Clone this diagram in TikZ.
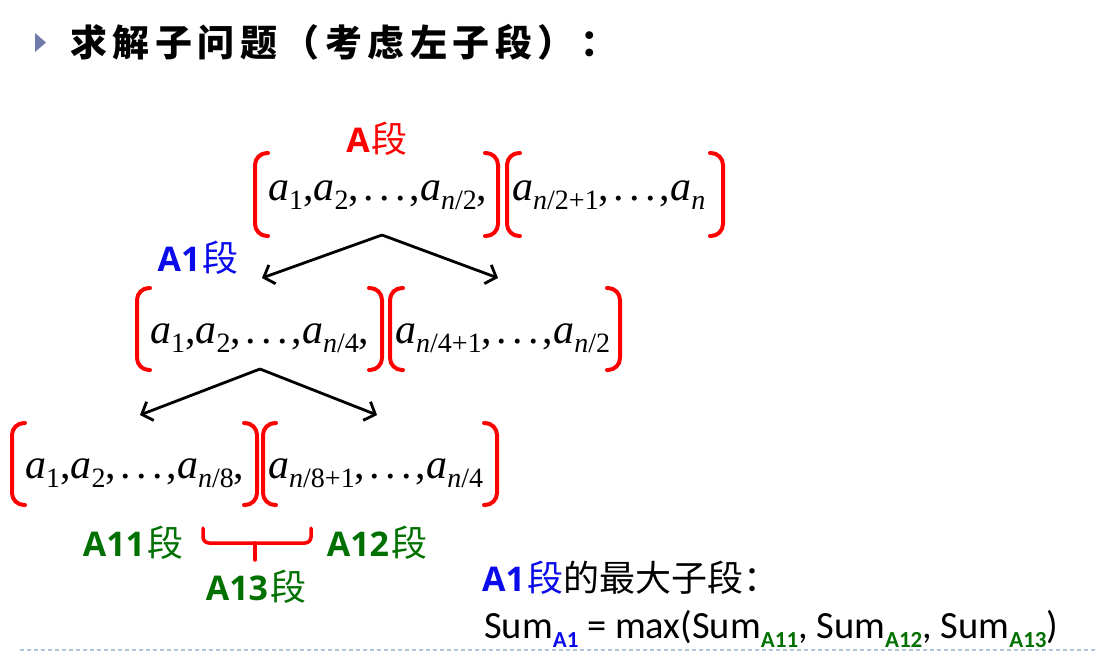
\documentclass[tikz,border=0pt]{standalone}
\usepackage{fontspec}
\setmainfont{Liberation Serif}
\newfontfamily\cjk{Noto Sans CJK SC}
\newfontfamily\calfont{Carlito}
\newfontfamily\labfont{Open Sans}
\usetikzlibrary{arrows.meta}
\definecolor{myred}{RGB}{255,0,0}
\definecolor{myblue}{RGB}{10,10,235}
\definecolor{mygreen}{RGB}{0,112,0}
\definecolor{trigray}{RGB}{112,122,170}
\definecolor{dashblue}{RGB}{175,198,225}
\newcommand{\ai}[1]{\textit{a}\raisebox{-9pt}{\fontsize{28}{28}\selectfont #1}}
\newcommand{\ndots}{\kern4pt.\kern5.5pt.\kern5.5pt.\kern4pt}
\newcommand{\ks}{\kern5.5pt}
\newcommand{\subl}[2]{\raisebox{-9pt}{\fontsize{23}{23}\selectfont\bfseries\color{#2}#1}}
\newcommand{\seg}[1]{{\labfont\bfseries\fontsize{34}{34}\selectfont #1}\kern2pt{\cjk\fontsize{36}{36}\selectfont 段}}
\newcommand{\obr}[3]{\draw[brk] (#1+13,#2) -- (#1,#2) -- (#1,#3) -- (#1+13,#3);}
\newcommand{\cbr}[3]{\draw[brk] (#1-13,#2) -- (#1,#2) -- (#1,#3) -- (#1-13,#3);}
\tikzset{
  mtext/.style={font=\fontsize{42}{42}\selectfont, inner sep=0pt, anchor=base west},
  brk/.style={draw=myred, line width=4pt, rounded corners=12pt, line cap=round},
  arr/.style={draw=black, line width=2.8pt, -{Straight Barb[length=9pt,width=20pt,line width=2.8pt]}},
  lab/.style={inner sep=0pt},
}
\begin{document}
\begin{tikzpicture}[x=1pt,y=-1pt]
\useasboundingbox (0,0) rectangle (1098,651);
% title
\fill[trigray] (35,33) -- (46,42.5) -- (35,52) -- cycle;
\node[anchor=west, inner sep=0pt, font=\cjk\bfseries\fontsize{37}{37}\selectfont] (title) at (70,42)
  {求\ks 解\ks 子\ks 问\ks 题\ks （\ks 考\ks 虑\ks 左\ks 子\ks 段\ks ）\ks ：};
% row 1
\node[lab, text=myred] (A) at (377,139) {\seg{A}};
\obr{255}{153}{236}
\node[mtext] (r1a) at (268,200) {\ai{1},\ai{2},\ndots,\ai{\textit{n}/2},};
\cbr{498}{153}{236}
\obr{507}{153}{236}
\node[mtext] (r1b) at (512,200) {\ai{\textit{n}/2+1},\ndots,\ai{\textit{n}}};
\cbr{723}{153}{236}
\coordinate (p1) at (382,235);
\coordinate (l1) at (262,278);
\coordinate (q1) at (498,278);
\draw[arr] (p1) -- (l1);
\draw[arr] (p1) -- (q1);
% row 2
\node[lab, text=myblue] (A1) at (198,258) {\seg{A1}};
\obr{137}{288}{370}
\node[mtext] (r2a) at (150,343) {\ai{1},\ai{2},\ndots,\ai{\textit{n}/4},};
\cbr{382}{288}{370}
\obr{390}{288}{370}
\node[mtext] (r2b) at (395,343) {\ai{\textit{n}/4+1},\ndots,\ai{\textit{n}/2}};
\cbr{620}{288}{370}
\coordinate (p2) at (260,369);
\coordinate (l2) at (140,415);
\coordinate (q2) at (377,415);
\draw[arr] (p2) -- (l2);
\draw[arr] (p2) -- (q2);
% row 3
\obr{12}{423}{505}
\node[mtext] (r3a) at (25,478) {\ai{1},\ai{2},\ndots,\ai{\textit{n}/8},};
\cbr{257}{423}{505}
\obr{263}{423}{505}
\node[mtext] (r3b) at (268,478) {\ai{\textit{n}/8+1},\ndots,\ai{\textit{n}/4}};
\cbr{497}{423}{505}
% brace
\draw[brk, line width=3.5pt, rounded corners=6pt] (203,528) -- (203,543) -- (311,543) -- (311,528);
\draw[brk, line width=3.5pt] (255,543) -- (255,560);
\node[lab, text=mygreen] (A11) at (133,543) {\seg{A11}};
\node[lab, text=mygreen] (A12) at (377,543) {\seg{A12}};
\node[lab, text=mygreen] (A13) at (256,587) {\seg{A13}};
% bottom text
\node[anchor=base west, inner sep=0pt, font=\cjk\fontsize{36}{36}\selectfont] (hd) at (482,591)
  {{\color{myblue}\seg{A1}}的最大子段：};
\node[anchor=base west, inner sep=0pt, font=\calfont\fontsize{38.5}{38.5}\selectfont] (sum) at (484,638)
  {Sum\subl{A1}{myblue} = max(Sum\subl{A11}{mygreen}, Sum\subl{A12}{mygreen}, Sum\subl{A13}{mygreen})};
% dashed rule
\coordinate (d1) at (20,650);
\coordinate (d2) at (1098,650);
\draw[dashblue, line width=1.5pt, dash pattern=on 4pt off 3pt] (d1) -- (d2);
\end{tikzpicture}
\end{document}
